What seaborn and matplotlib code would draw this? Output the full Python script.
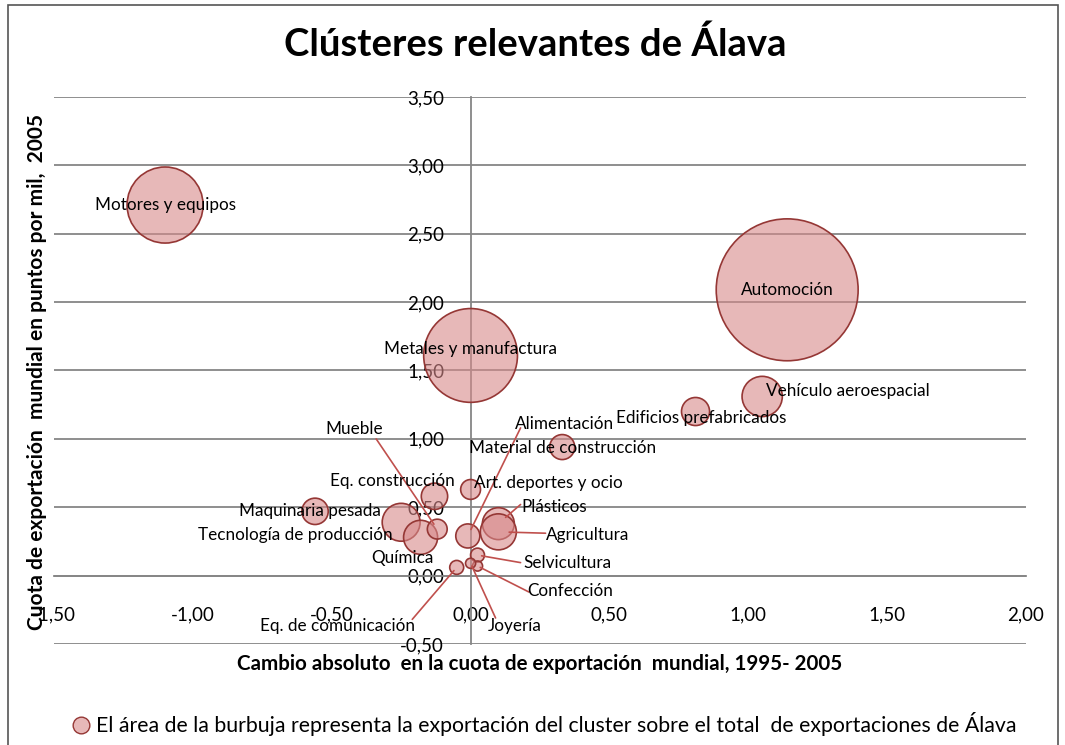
import numpy as np
import pandas as pd
import matplotlib
matplotlib.use("Agg")
import matplotlib.pyplot as plt
from matplotlib.ticker import FuncFormatter, MultipleLocator
from matplotlib.lines import Line2D
from matplotlib.patches import Rectangle
from matplotlib.colors import to_rgba
import seaborn as sns

# data
clusters = ["Motores y equipos", "Automoción", "Metales y manufactura", "Vehículo aeroespacial",
            "Edificios prefabricados", "Material de construcción", "Art. deportes y ocio",
            "Eq. construcción", "Maquinaria pesada", "Tecnología de producción", "Química",
            "Mueble", "Alimentación", "Plásticos", "Agricultura", "Selvicultura",
            "Confección", "Joyería", "Eq. de comunicación"]
cambio = [-1.10, 1.14, 0.00, 1.05, 0.81, 0.33, 0.00, -0.13, -0.56, -0.25, -0.18,
          -0.12, -0.01, 0.10, 0.10, 0.025, 0.025, 0.00, -0.05]
cuota = [2.71, 2.09, 1.61, 1.31, 1.20, 0.94, 0.63, 0.58, 0.47, 0.39, 0.28,
         0.34, 0.29, 0.38, 0.32, 0.15, 0.07, 0.09, 0.06]
peso = [12.5, 43.5, 19.0, 3.5, 1.7, 1.35, 0.85, 1.5, 1.5, 3.1, 2.5,
        0.85, 1.25, 2.2, 2.8, 0.42, 0.22, 0.22, 0.42]

df = pd.DataFrame({"cluster": clusters, "x": cambio, "y": cuota, "peso": peso})

# label layout: (x, y, ha) and optional leader start
label_pos = {
    "Motores y equipos": (-1.10, 2.71, "center"),
    "Automoción": (1.14, 2.09, "center"),
    "Metales y manufactura": (0.0, 1.66, "center"),
    "Vehículo aeroespacial": (1.065, 1.35, "left"),
    "Edificios prefabricados": (0.83, 1.15, "center"),
    "Material de construcción": (0.33, 0.93, "center"),
    "Art. deportes y ocio": (0.28, 0.68, "center"),
    "Eq. construcción": (-0.28, 0.69, "center"),
    "Maquinaria pesada": (-0.58, 0.47, "center"),
    "Tecnología de producción": (-0.63, 0.30, "center"),
    "Química": (-0.245, 0.13, "center"),
    "Mueble": (-0.42, 1.07, "center"),
    "Alimentación": (0.34, 1.11, "center"),
    "Plásticos": (0.30, 0.50, "center"),
    "Agricultura": (0.42, 0.30, "center"),
    "Selvicultura": (0.35, 0.095, "center"),
    "Confección": (0.36, -0.11, "center"),
    "Joyería": (0.16, -0.37, "center"),
    "Eq. de comunicación": (-0.48, -0.37, "center"),
}
leader_start = {
    "Mueble": (-0.34, 1.00),
    "Alimentación": (0.18, 1.08),
    "Plásticos": (0.18, 0.52),
    "Agricultura": (0.27, 0.31),
    "Selvicultura": (0.18, 0.095),
    "Confección": (0.21, -0.12),
    "Joyería": (0.09, -0.31),
    "Eq. de comunicación": (-0.21, -0.32),
}

sns.set_style("white")
plt.rcParams["font.family"] = ["Lato", "DejaVu Sans"]
plt.rcParams["text.color"] = "black"

fig = plt.figure(figsize=(10.65, 7.45), dpi=100)
ax = fig.add_axes([0.0507, 0.1356, 0.9127, 0.7342])

k = 240.0  # points^2 per percent
sns.scatterplot(data=df, x="x", y="y", size="peso",
                sizes=(k * min(peso), k * max(peso)), size_norm=(min(peso), max(peso)),
                legend=False, ax=ax, zorder=3)
pts = ax.collections[0]
pts.set_facecolor(to_rgba("#D7898A", 0.6))
pts.set_edgecolor("#953735")
pts.set_linewidth(1.2)

ax.set_xlim(-1.5, 2.0)
ax.set_ylim(-0.5, 3.5)
ax.xaxis.set_major_locator(MultipleLocator(0.5))
ax.yaxis.set_major_locator(MultipleLocator(0.5))
fmt = FuncFormatter(lambda v, p: f"{v:.2f}".replace(".", ","))
ax.xaxis.set_major_formatter(fmt)
ax.yaxis.set_major_formatter(fmt)

grey = "#868686"
ax.yaxis.grid(True, color=grey, linewidth=1.3, zorder=0)
ax.xaxis.grid(False)
for s in ["top", "right"]:
    ax.spines[s].set_visible(False)
ax.spines["left"].set_position(("data", 0))
ax.spines["bottom"].set_position(("data", 0))
for s in ["left", "bottom"]:
    ax.spines[s].set_color(grey)
    ax.spines[s].set_linewidth(1.3)
ax.tick_params(axis="both", direction="out", length=5, color=grey, width=1.2,
               labelsize=13.5, labelcolor="black")
ax.tick_params(axis="x", pad=17)
ax.tick_params(axis="y", pad=14)
ax.set_xlabel("")
ax.set_ylabel("")

# labels and leader lines
for name, bx, by, w in zip(clusters, cambio, cuota, peso):
    lx, ly, ha = label_pos[name]
    ax.text(lx, ly, name, ha=ha, va="center", fontsize=12.3, zorder=5)
    if name in leader_start:
        r = np.sqrt(k * w) / 2
        ax.annotate("", xy=(bx, by), xytext=leader_start[name],
                    arrowprops=dict(arrowstyle="-", color="#C0504D", lw=1.2,
                                    shrinkA=0, shrinkB=0.6 * r), zorder=4)

fig.text(0.503, 0.94, "Clústeres relevantes de Álava", ha="center", va="center",
         fontsize=27.5, fontweight="bold")
fig.text(0.507, 0.109, "Cambio absoluto  en la cuota de exportación  mundial, 1995- 2005",
         ha="center", va="center", fontsize=14.8, fontweight="bold")
fig.text(0.035, 0.50, "Cuota de exportación  mundial en puntos por mil,  2005",
         ha="center", va="center", rotation=90, fontsize=15, fontweight="bold")

handle = Line2D([], [], marker="o", linestyle="none", markersize=12,
                markerfacecolor=to_rgba("#D7898A", 0.6), markeredgecolor="#953735")
fig.legend([handle], ["El área de la burbuja representa la exportación del cluster sobre el total  de exportaciones de Álava"],
           loc="center", bbox_to_anchor=(0.51, 0.028), frameon=False, fontsize=15.3,
           handletextpad=0.2, handlelength=1.0)

fig.patches.append(Rectangle((0.0075, -0.01), 0.986, 1.003, transform=fig.transFigure,
                             fill=False, edgecolor="#555555", linewidth=1.2))

fig.savefig("out.png", dpi=100)
